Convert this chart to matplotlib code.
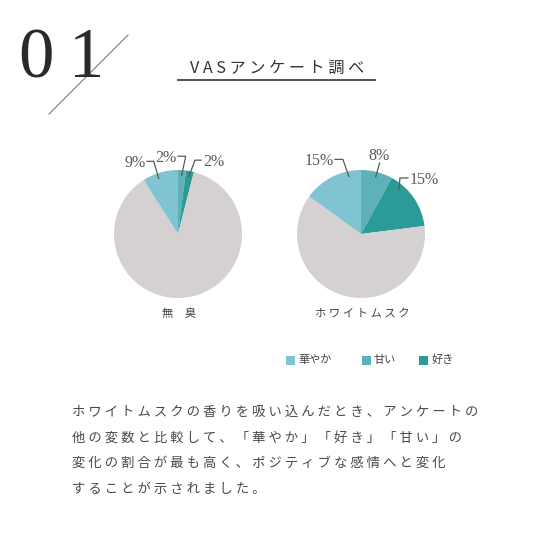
import numpy as np
import matplotlib.pyplot as plt
from matplotlib.patches import Rectangle

# data
categories = ['甘い', '好き', 'その他', '華やか']
legend_order = ['華やか', '甘い', '好き']
colors = {'華やか': '#80c4d3', '甘い': '#5db1b7', '好き': '#2b9b99', 'その他': '#d5d0d1'}
pie_names = ['無　臭', 'ホワイトムスク']
odorless = [2, 2, 87, 9]
white_musk = [8, 15, 62, 15]

title = 'VASアンケート調べ'
body_lines = [
    'ホワイトムスクの香りを吸い込んだとき、アンケートの',
    '他の変数と比較して、「華やか」「好き」「甘い」の',
    '変化の割合が最も高く、ポジティブな感情へと変化',
    'することが示されました。',
]

JP = ['Noto Sans CJK JP', 'DejaVu Sans']
SERIF = ['Liberation Serif', 'DejaVu Serif']


def spaced(s):
    # loose letter spacing, no extra gap around a full-width space
    return ' '.join(s).replace(' \u3000 ', '\u3000')


fig = plt.figure(figsize=(5.5, 5.5), dpi=100)
ax = fig.add_axes([0, 0, 1, 1])


def Y(py):
    # pixel row from top -> data y
    return 550 - py


# big number and slash
ax.text(19, Y(77), '0\u20091', family=SERIF, fontsize=51, color='#2a2a2a',
        va='baseline', ha='left')
ax.plot([49, 128], [Y(114), Y(35)], color='#888888', lw=0.9)

# title with underline
ax.text(277, Y(68), spaced(title), family=JP, fontsize=11.6, color='#333333',
        ha='center', va='center')
ax.plot([178, 375], [Y(80), Y(80)], color='#333333', lw=1.2)

# pies
centers = [(178, 234), (361, 234)]
radius = 64
# per label: wedge index, position in wedge, elbow offset, stub end x, text side
label_specs = [
    [(3, 0.59, (-5, -17), 147, 'left'),
     (0, 0.5, (4, -19), 178, 'left'),
     (1, 0.5, (6, -16), 201, 'right')],
    [(3, 0.22, (-6, -17), 335, 'left'),
     (0, 0.5, (4, -14), None, 'top'),
     (1, 0.79, (1, -11), 408, 'right')],
]
lab_col = '#5a5a5a'

for (cx, cy), vals, specs, name in zip(centers, [odorless, white_musk],
                                        label_specs, pie_names):
    wedges, _ = ax.pie(vals, colors=[colors[c] for c in categories],
                       startangle=90, counterclock=False,
                       center=(cx, Y(cy)), radius=radius,
                       wedgeprops=dict(linewidth=0))
    for idx, frac, (dx, dy), stub, side in specs:
        w = wedges[idx]
        ang = np.deg2rad(w.theta1 + frac * (w.theta2 - w.theta1))
        axp = cx + 0.92 * radius * np.cos(ang)
        ayp = cy - 0.92 * radius * np.sin(ang)
        ex, ey = axp + dx, ayp + dy
        txt = f'{vals[idx]}%'
        if side == 'top':
            ax.plot([axp, ex], [Y(ayp), Y(ey)], color=lab_col, lw=0.9)
            ax.text(ex - 1, Y(ey - 7), txt, family=SERIF, fontsize=11.5,
                    color=lab_col, ha='center', va='center')
        else:
            ax.plot([axp, ex, stub], [Y(ayp), Y(ey), Y(ey)],
                    color=lab_col, lw=0.9)
            if side == 'left':
                ax.text(stub - 1, Y(ey + 2), txt, family=SERIF, fontsize=11.5,
                        color=lab_col, ha='right', va='center')
            else:
                ax.text(stub + 2, Y(ey + 2), txt, family=SERIF, fontsize=11.5,
                        color=lab_col, ha='left', va='center')
    ax.text(cx + 1, Y(314), spaced(name), family=JP, fontsize=8.2,
            color='#444444', ha='center', va='center')

# legend
legend_x = [286, 362, 419]
for lab, lx in zip(legend_order, legend_x):
    ax.add_patch(Rectangle((lx, Y(364.5)), 9, 9, color=colors[lab], lw=0))
    ax.text(lx + 12, Y(360), lab, family=JP, fontsize=8,
            color='#444444', ha='left', va='center')

# body text
for i, line in enumerate(body_lines):
    ax.text(72, Y(412 + 25.5 * i), spaced(line), family=JP, fontsize=9.6,
            color='#4a4a4a', ha='left', va='center')

# pie() resets the limits, so fix the pixel frame afterwards
ax.set_xlim(0, 550)
ax.set_ylim(0, 550)
ax.set_aspect('equal')
ax.axis('off')

fig.savefig('out.png', dpi=100, facecolor='white')
